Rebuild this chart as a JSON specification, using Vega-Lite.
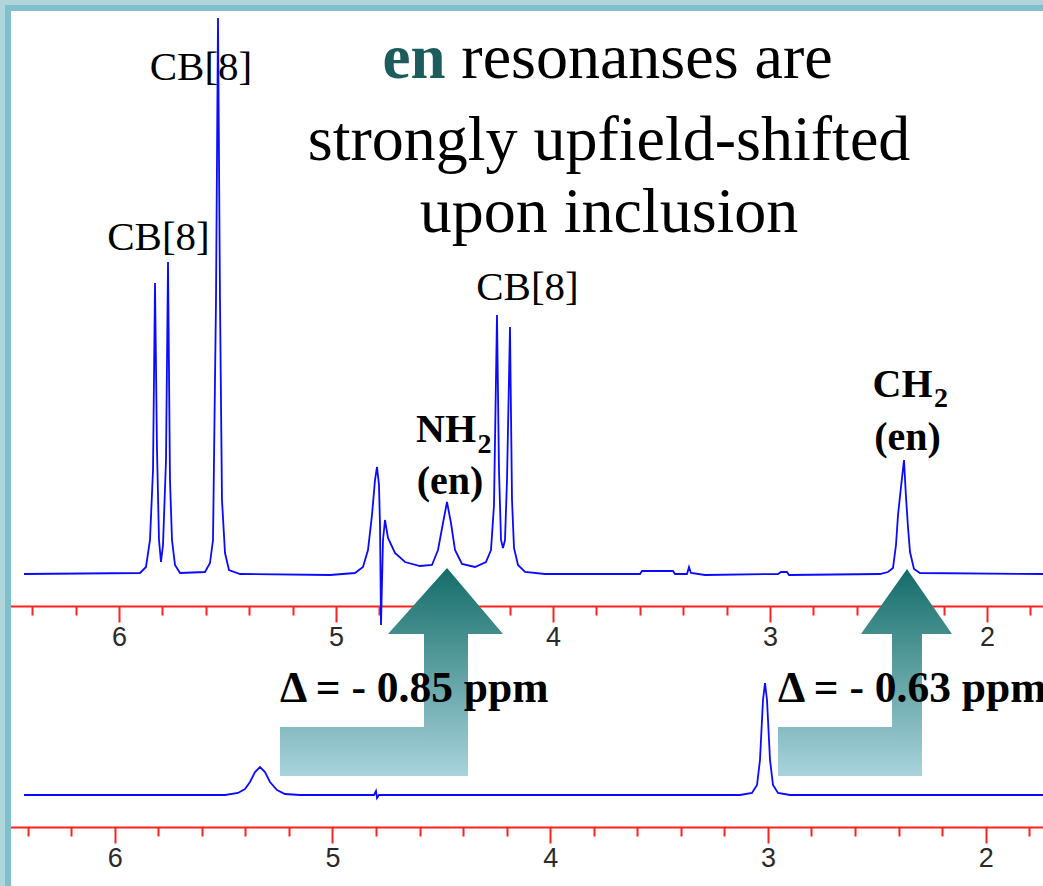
{
  "$schema": "https://vega.github.io/schema/vega-lite/v6.json",
  "width": 1043,
  "height": 886,
  "autosize": "none",
  "padding": 0,
  "background": "white",
  "config": {"view": {"stroke": null}},
  "datasets": {
    "top": [
      {"p": 6.4378, "I": 0}, {"p": 5.9032, "I": 1}, {"p": 5.8756, "I": 7}, {"p": 5.8572, "I": 34},
      {"p": 5.8433, "I": 104}, {"p": 5.8341, "I": 291}, {"p": 5.8249, "I": 124}, {"p": 5.8157, "I": 34},
      {"p": 5.8065, "I": 12}, {"p": 5.7972, "I": 29}, {"p": 5.7834, "I": 114}, {"p": 5.7742, "I": 312},
      {"p": 5.765, "I": 94}, {"p": 5.7558, "I": 34}, {"p": 5.7419, "I": 9}, {"p": 5.7189, "I": 1},
      {"p": 5.6037, "I": 2}, {"p": 5.5807, "I": 11}, {"p": 5.5668, "I": 34}, {"p": 5.553, "I": 274},
      {"p": 5.5438, "I": 556}, {"p": 5.5346, "I": 274}, {"p": 5.5254, "I": 74}, {"p": 5.5115, "I": 21},
      {"p": 5.4931, "I": 4}, {"p": 5.4424, "I": 0}, {"p": 5.0277, "I": -1}, {"p": 4.9125, "I": 1},
      {"p": 4.8756, "I": 7}, {"p": 4.8526, "I": 24}, {"p": 4.8341, "I": 59}, {"p": 4.8203, "I": 94},
      {"p": 4.8111, "I": 107}, {"p": 4.8019, "I": 89}, {"p": 4.7972, "I": 49}, {"p": 4.7926, "I": -51},
      {"p": 4.7834, "I": 34}, {"p": 4.7742, "I": 54}, {"p": 4.7604, "I": 36}, {"p": 4.7281, "I": 21},
      {"p": 4.682, "I": 12}, {"p": 4.6129, "I": 8}, {"p": 4.5576, "I": 9}, {"p": 4.53, "I": 24},
      {"p": 4.5069, "I": 51}, {"p": 4.4885, "I": 72}, {"p": 4.4701, "I": 51}, {"p": 4.4516, "I": 24},
      {"p": 4.4194, "I": 10}, {"p": 4.3595, "I": 7}, {"p": 4.3088, "I": 12}, {"p": 4.2857, "I": 24},
      {"p": 4.2719, "I": 69}, {"p": 4.2581, "I": 259}, {"p": 4.2489, "I": 104}, {"p": 4.2396, "I": 34},
      {"p": 4.2304, "I": 26}, {"p": 4.2212, "I": 34}, {"p": 4.212, "I": 94}, {"p": 4.1982, "I": 247},
      {"p": 4.1889, "I": 74}, {"p": 4.1797, "I": 26}, {"p": 4.1613, "I": 9}, {"p": 4.129, "I": 2},
      {"p": 4.0369, "I": 0}, {"p": 3.5991, "I": 0}, {"p": 3.5899, "I": 3}, {"p": 3.447, "I": 3},
      {"p": 3.4378, "I": 0}, {"p": 3.3825, "I": 0}, {"p": 3.3733, "I": 7}, {"p": 3.3641, "I": 1},
      {"p": 3.2995, "I": -1}, {"p": 2.9631, "I": 0}, {"p": 2.9493, "I": 2}, {"p": 2.9217, "I": 2},
      {"p": 2.9124, "I": -1}, {"p": 2.4931, "I": 0}, {"p": 2.4562, "I": 2}, {"p": 2.4332, "I": 6},
      {"p": 2.4194, "I": 29}, {"p": 2.4101, "I": 59}, {"p": 2.3963, "I": 87}, {"p": 2.3825, "I": 114},
      {"p": 2.3733, "I": 77}, {"p": 2.3641, "I": 47}, {"p": 2.3548, "I": 22}, {"p": 2.3364, "I": 5},
      {"p": 2.3088, "I": 1}, {"p": 1.7419, "I": 0}
    ],
    "bottom": [
      {"p": 6.4165, "I": 0}, {"p": 5.4934, "I": 0}, {"p": 5.4337, "I": 2}, {"p": 5.4016, "I": 6},
      {"p": 5.3786, "I": 13}, {"p": 5.3556, "I": 23}, {"p": 5.3327, "I": 28}, {"p": 5.3097, "I": 23},
      {"p": 5.2868, "I": 13}, {"p": 5.2546, "I": 5}, {"p": 5.2179, "I": 1}, {"p": 5.149, "I": 0},
      {"p": 4.8091, "I": 0}, {"p": 4.8, "I": 4}, {"p": 4.7954, "I": -3}, {"p": 4.7862, "I": 0},
      {"p": 3.1283, "I": 0}, {"p": 3.0732, "I": 2}, {"p": 3.0502, "I": 10}, {"p": 3.0365, "I": 35},
      {"p": 3.0227, "I": 95}, {"p": 3.0135, "I": 112}, {"p": 3.0043, "I": 95}, {"p": 2.9905, "I": 35},
      {"p": 2.9768, "I": 10}, {"p": 2.9538, "I": 2}, {"p": 2.8987, "I": 0}, {"p": 1.7368, "I": 0}
    ],
    "arrowHeads": [
      {"arrow": "NH2", "p": 4.7604, "I": -60, "I2": -60},
      {"arrow": "NH2", "p": 4.4885, "I": 6, "I2": -60},
      {"arrow": "NH2", "p": 4.2304, "I": -60, "I2": -60},
      {"arrow": "CH2", "p": 2.5807, "I": -60, "I2": -60},
      {"arrow": "CH2", "p": 2.3687, "I": 5, "I2": -60},
      {"arrow": "CH2", "p": 2.1613, "I": -60, "I2": -60}
    ],
    "arrowShafts": [
      {"arrow": "NH2", "p": 4.5945, "p2": 4.3917, "I": -60, "I2": -202},
      {"arrow": "CH2", "p": 2.4378, "p2": 2.2996, "I": -60, "I2": -202}
    ],
    "arrowFeet": [
      {"arrow": "NH2", "p": 5.2581, "p2": 4.3917, "I": -153, "I2": -202},
      {"arrow": "CH2", "p": 2.9631, "p2": 2.2996, "I": -153, "I2": -202}
    ],
    "titleNormal": [
      {"t": "resonanses are", "p": 3.5668, "I": 496},
      {"t": "strongly upfield-shifted", "p": 3.7419, "I": 414},
      {"t": "upon inclusion", "p": 3.7419, "I": 342}
    ],
    "titleBold": [{"t": "en", "p": 4.6406, "I": 496}],
    "cb": [
      {"t": "CB[8]", "p": 5.6221, "I": 494},
      {"t": "CB[8]", "p": 5.818, "I": 324},
      {"t": "CB[8]", "p": 4.1175, "I": 274}
    ],
    "groups": [
      {"t": "NH", "p": 4.4931, "I": 132},
      {"t": "(en)", "p": 4.4747, "I": 80},
      {"t": "CH", "p": 2.3894, "I": 177},
      {"t": "(en)", "p": 2.3664, "I": 124}
    ],
    "subs": [
      {"t": "2", "p": 4.3157, "I": 121},
      {"t": "2", "p": 2.212, "I": 167}
    ],
    "shifts": [
      {"t": "Δ = - 0.85 ppm", "p": 5.2581, "I": -128},
      {"t": "Δ = - 0.63 ppm", "p": 2.9631, "I": -128}
    ],
    "frame": [{"edge": "frame"}]
  },
  "layer": [
    {
      "data": {"name": "bottom"},
      "mark": {"type": "line", "color": "#0a0aff", "strokeWidth": 1.8, "interpolate": "linear"},
      "encoding": {
        "x": {
          "field": "p", "type": "quantitative",
          "scale": {"domain": [1.7368, 6.5267], "reverse": true, "nice": false, "zero": false},
          "axis": {
            "orient": "bottom", "offset": -59, "title": null, "grid": false,
            "values": [1.8, 2, 2.2, 2.4, 2.6, 2.8, 3, 3.2, 3.4, 3.6, 3.8, 4, 4.2, 4.4, 4.6, 4.8, 5, 5.2, 5.4, 5.6, 5.8, 6, 6.2, 6.4],
            "domainColor": "#ff2020", "domainWidth": 2, "tickColor": "#ff2020", "tickWidth": 2,
            "tickSize": {"condition": {"test": "abs(datum.value - round(datum.value)) < 0.001", "value": 16}, "value": 9},
            "labelExpr": "abs(datum.value - round(datum.value)) < 0.001 ? format(datum.value, 'd') : ''",
            "labelFont": "Liberation Sans", "labelFontSize": 27, "labelColor": "#2a2a2a", "labelPadding": 2,
            "labelFlush": false, "labelOverlap": false, "labelBound": false
          }
        },
        "y": {"field": "I", "type": "quantitative", "scale": {"domain": [-91, 795], "nice": false, "zero": false}, "axis": null}
      }
    },
    {
      "encoding": {
        "x": {
          "field": "p", "type": "quantitative",
          "scale": {"domain": [1.7419, 6.5484], "reverse": true, "nice": false, "zero": false},
          "axis": {
            "orient": "bottom", "offset": -280, "title": null, "grid": false,
            "values": [1.8, 2, 2.2, 2.4, 2.6, 2.8, 3, 3.2, 3.4, 3.6, 3.8, 4, 4.2, 4.4, 4.6, 4.8, 5, 5.2, 5.4, 5.6, 5.8, 6, 6.2, 6.4],
            "domainColor": "#ff2020", "domainWidth": 2, "tickColor": "#ff2020", "tickWidth": 2,
            "tickSize": {"condition": {"test": "abs(datum.value - round(datum.value)) < 0.001", "value": 16}, "value": 9},
            "labelExpr": "abs(datum.value - round(datum.value)) < 0.001 ? format(datum.value, 'd') : ''",
            "labelFont": "Liberation Sans", "labelFontSize": 27, "labelColor": "#2a2a2a", "labelPadding": 2,
            "labelFlush": false, "labelOverlap": false, "labelBound": false
          }
        },
        "y": {"field": "I", "type": "quantitative", "scale": {"domain": [-312, 574], "nice": false, "zero": false}, "axis": null}
      },
      "layer": [
        {
          "data": {"name": "top"},
          "mark": {"type": "line", "color": "#0a0aff", "strokeWidth": 1.8, "interpolate": "linear"}
        },
        {
          "data": {"name": "arrowFeet"},
          "mark": {
            "type": "rect", "opacity": 1,
            "color": {"gradient": "linear", "x1": 0, "y1": 0, "x2": 0, "y2": 1,
              "stops": [{"offset": 0, "color": "#86bbc1"}, {"offset": 1, "color": "#a9d3dc"}]}
          },
          "encoding": {"x2": {"field": "p2"}, "y2": {"field": "I2"}}
        },
        {
          "data": {"name": "arrowShafts"},
          "mark": {
            "type": "rect", "opacity": 1,
            "color": {"gradient": "linear", "x1": 0, "y1": 0, "x2": 0, "y2": 1,
              "stops": [{"offset": 0, "color": "#438d8d"}, {"offset": 1, "color": "#a9d3dc"}]}
          },
          "encoding": {"x2": {"field": "p2"}, "y2": {"field": "I2"}}
        },
        {
          "data": {"name": "arrowHeads"},
          "mark": {
            "type": "area", "opacity": 1,
            "color": {"gradient": "linear", "x1": 0, "y1": 0, "x2": 0, "y2": 1,
              "stops": [{"offset": 0, "color": "#136c68"}, {"offset": 1, "color": "#438d8d"}]}
          },
          "encoding": {"y2": {"field": "I2"}, "detail": {"field": "arrow", "type": "nominal"}}
        },
        {
          "data": {"name": "titleNormal"},
          "mark": {"type": "text", "font": "Liberation Serif", "fontSize": 64, "color": "black", "align": "center", "baseline": "alphabetic"},
          "encoding": {"text": {"field": "t"}}
        },
        {
          "data": {"name": "titleBold"},
          "mark": {"type": "text", "font": "Liberation Serif", "fontSize": 63, "fontWeight": "bold", "color": "#1d5c5c", "align": "center", "baseline": "alphabetic"},
          "encoding": {"text": {"field": "t"}}
        },
        {
          "data": {"name": "cb"},
          "mark": {"type": "text", "font": "Liberation Serif", "fontSize": 41, "color": "black", "align": "center", "baseline": "alphabetic"},
          "encoding": {"text": {"field": "t"}}
        },
        {
          "data": {"name": "groups"},
          "mark": {"type": "text", "font": "Liberation Serif", "fontSize": 40, "fontWeight": "bold", "color": "black", "align": "center", "baseline": "alphabetic"},
          "encoding": {"text": {"field": "t"}}
        },
        {
          "data": {"name": "subs"},
          "mark": {"type": "text", "font": "Liberation Serif", "fontSize": 28, "fontWeight": "bold", "color": "black", "align": "center", "baseline": "alphabetic"},
          "encoding": {"text": {"field": "t"}}
        },
        {
          "data": {"name": "shifts"},
          "mark": {"type": "text", "font": "Liberation Serif", "fontSize": 43.5, "fontWeight": "bold", "color": "black", "align": "left", "baseline": "alphabetic"},
          "encoding": {"text": {"field": "t"}}
        }
      ]
    },
    {
      "data": {"name": "frame"},
      "mark": {"type": "rect", "fill": "transparent", "stroke": "#80c0cc", "strokeWidth": 22, "strokeDash": [1043, 1929, 886]},
      "encoding": {}
    },
    {
      "data": {"name": "frame"},
      "mark": {"type": "rect", "fill": "transparent", "stroke": "#b0d5da", "strokeWidth": 10, "strokeDash": [1043, 1929, 886]},
      "encoding": {}
    }
  ],
  "resolve": {
    "scale": {"x": "independent", "y": "independent"},
    "axis": {"x": "independent", "y": "independent"}
  }
}
